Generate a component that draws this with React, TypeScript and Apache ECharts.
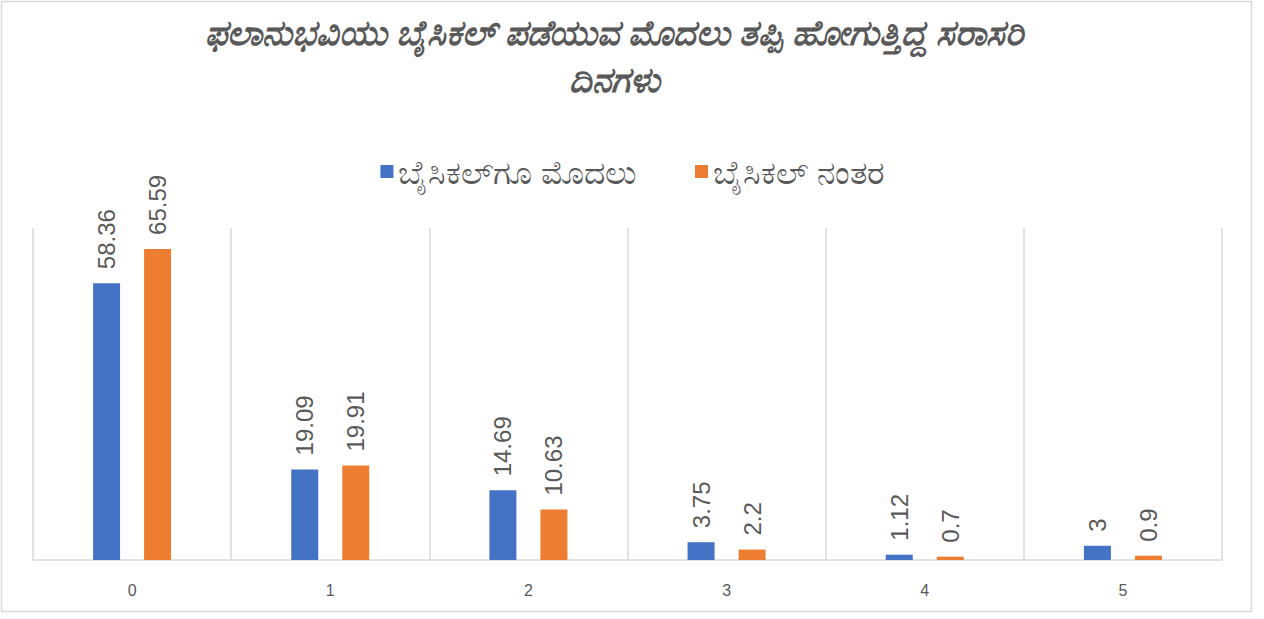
import React, { useEffect, useRef } from "react";
import * as echarts from "echarts";

const titleLines = ["ಫಲಾನುಭವಿಯು ಬೈಸಿಕಲ್ ಪಡೆಯುವ ಮೊದಲು ತಪ್ಪಿ ಹೋಗುತ್ತಿದ್ದ ಸರಾಸರಿ", "ದಿನಗಳು"];
const categories = ["0", "1", "2", "3", "4", "5"];
const seriesNames = ["ಬೈಸಿಕಲ್‌ಗೂ ಮೊದಲು", "ಬೈಸಿಕಲ್ ನಂತರ"];
const beforeValues = [58.36, 19.09, 14.69, 3.75, 1.12, 3];
const afterValues = [65.59, 19.91, 10.63, 2.2, 0.7, 0.9];
const colors = ["#4472C4", "#ED7D31"];

export default function App() {
  const ref = useRef<HTMLDivElement>(null);
  useEffect(() => {
    if (!ref.current) return;
    const chart = echarts.init(ref.current, null, { renderer: "svg" });
    const label = {
      show: true,
      position: "top",
      rotate: 90,
      align: "left",
      verticalAlign: "middle",
      distance: 14,
      color: "#595959",
      fontSize: 24,
      fontFamily: "'Liberation Sans', Arial, sans-serif",
    };
    const titleStyle = {
      fontSize: 35,
      fontStyle: "italic",
      fontWeight: "bold",
      fill: "#595959",
      fontFamily: "'Noto Sans', sans-serif",
      align: "center",
      verticalAlign: "middle",
    };
    chart.setOption({
      animation: false,
      backgroundColor: "#ffffff",
      color: colors,
      legend: {
        top: 150,
        left: "center",
        itemWidth: 13,
        itemHeight: 13,
        itemGap: 58,
        icon: "rect",
        textStyle: { fontSize: 33, color: "#595959", fontFamily: "'Noto Sans', sans-serif" },
        data: seriesNames,
      },
      grid: { left: 33, right: 42, top: 228, bottom: 59, containLabel: false },
      xAxis: {
        type: "category",
        data: categories,
        axisLine: { lineStyle: { color: "#d9d9d9", width: 1.5 } },
        axisTick: { show: false },
        axisLabel: { color: "#595959", fontSize: 16, margin: 22 },
        splitLine: { show: true, lineStyle: { color: "#d9d9d9", width: 1.5 } },
      },
      yAxis: {
        type: "value",
        min: 0,
        max: 70,
        show: false,
        splitLine: { show: false },
      },
      series: [
        {
          name: seriesNames[0],
          type: "bar",
          data: beforeValues,
          barWidth: 27,
          barGap: "89%",
          label,
        },
        {
          name: seriesNames[1],
          type: "bar",
          data: afterValues,
          barWidth: 27,
          barGap: "89%",
          label,
        },
      ],
      graphic: [
        {
          type: "rect",
          shape: { x: 1.5, y: 1.5, width: 1250, height: 610 },
          style: { fill: "none", stroke: "#d9d9d9", lineWidth: 1.5 },
          silent: true,
        },
        {
          type: "text",
          x: 614,
          y: 31,
          style: { ...titleStyle, text: titleLines[0] },
          silent: true,
        },
        {
          type: "text",
          x: 614,
          y: 78,
          style: { ...titleStyle, text: titleLines[1] },
          silent: true,
        },
      ],
    });
    return () => chart.dispose();
  }, []);
  return (
    <div
      ref={ref}
      style={{ position: "fixed", left: 0, top: 0, width: 1264, height: 619 }}
    />
  );
}
